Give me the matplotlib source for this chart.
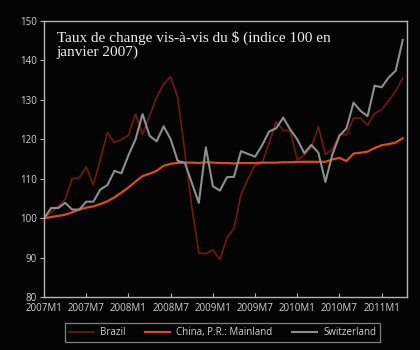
"""Taux de change vis-a-vis du $ : Brazil, China, Switzerland (index 100 = 2007M1)."""
import matplotlib
matplotlib.use('Agg')
import matplotlib.pyplot as plt

# monthly index values, 2007M1 .. 2011M4
brazil = [100, 101.5, 103, 104.8, 110, 110.3, 113, 108.4, 115, 121.7,
          119.2, 120, 121, 126.4, 121.3, 126, 130.6, 134, 135.9, 130.6,
          117, 103, 91.2, 91, 92, 89.5, 95, 97.5, 106, 110,
          113.5, 114, 119, 124.5, 122.3, 122.1, 114.8, 116, 118, 123.2,
          116.2, 117.5, 121.3, 121.1, 125.4, 125.4, 123.6, 126.6, 127.5, 129.8,
          132.3, 135.5]
china = [100, 100.3, 100.6, 100.9, 101.5, 102.2, 102.7, 103, 103.6, 104.3,
         105.3, 106.5, 107.8, 109.3, 110.7, 111.3, 112, 113.3, 113.8, 114,
         114.1, 114.1, 114, 114.2, 114.1, 114, 114, 113.9, 114, 114,
         114, 114.1, 114.1, 114.1, 114.2, 114.2, 114.3, 114.3, 114.3, 114.3,
         114.3, 114.9, 115.3, 114.5, 116.4, 116.6, 116.9, 117.8, 118.5, 118.8,
         119.2, 120.3]
switzerland = [100, 102.6, 102.6, 103.9, 102.2, 102.2, 104.2, 104.2, 107.3, 108.4,
               112, 111.4, 116, 120, 126.4, 120.9, 119.5, 123.3, 120, 114.5,
               114.1, 109, 103.9, 118, 108.1, 107, 110.4, 110.5, 117, 116.3,
               115.6, 118.5, 122, 122.8, 125.5, 122.5, 120, 116.5, 118.6, 116.6,
               109.2, 116.2, 120.9, 122.8, 129.3, 127.2, 125.9, 133.6, 133.2, 135.7,
               137.4, 145.2]
tick_pos = [0, 6, 12, 18, 24, 30, 36, 42, 48]
tick_labels = ['2007M1', '2007M7', '2008M1', '2008M7', '2009M1',
               '2009M7', '2010M1', '2010M7', '2011M1']
yticks = [80, 90, 100, 110, 120, 130, 140, 150]

plt.rcParams['font.family'] = ['Open Sans', 'DejaVu Sans']
bg = '#050404'
fg = '#d2d2d2'

fig = plt.figure(figsize=(4.2, 3.5), dpi=100, facecolor=bg)
ax = fig.add_axes([0.105, 0.151, 0.864, 0.789], facecolor=bg)

months = list(range(len(brazil)))
ax.plot(months, brazil, color='#701a10', lw=1.2, label='Brazil')
ax.plot(months, china, color='#dc4a1e', lw=1.6, label='China, P.R.: Mainland')
ax.plot(months, switzerland, color='#8e8e8e', lw=1.5, label='Switzerland')

ax.set_xlim(0, 51.6)
ax.set_ylim(80, 150)
ax.set_xticks(tick_pos)
ax.set_xticklabels(tick_labels)
ax.set_yticks(yticks)
for s in ax.spines.values():
    s.set_color('#b4b4b4')
    s.set_linewidth(1.0)
ax.tick_params(axis='x', direction='in', length=3, colors='#b4b4b4',
               labelcolor=fg, labelsize=7, pad=4)
ax.tick_params(axis='y', direction='out', length=3, colors='#b4b4b4',
               labelcolor=fg, labelsize=7, pad=2)

ax.text(0.035, 0.965, 'Taux de change vis-à-vis du $ (indice 100 en\njanvier 2007)',
        transform=ax.transAxes, ha='left', va='top', color='#ededed',
        family='Liberation Serif', fontsize=11, linespacing=1.1)

leg = fig.legend(loc='center', bbox_to_anchor=(0.53, 0.05), ncol=3,
                 frameon=True, fancybox=False, fontsize=7,
                 handlelength=2.6, handletextpad=0.6, columnspacing=2.0,
                 borderpad=0.45)
leg.get_frame().set_facecolor(bg)
leg.get_frame().set_edgecolor('#a0a0a0')
leg.get_frame().set_linewidth(0.9)
for t in leg.get_texts():
    t.set_color(fg)

fig.savefig('out.png', dpi=100, facecolor=bg)
